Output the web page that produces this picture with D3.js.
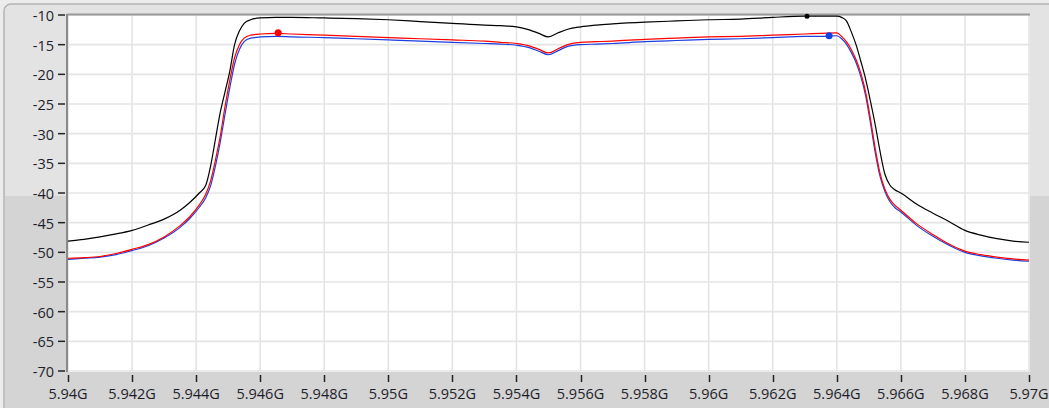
<!DOCTYPE html>
<html>
<head>
<meta charset="utf-8">
<script src="https://cdn.jsdelivr.net/npm/d3@7"></script>
<style>
  html, body { margin: 0; padding: 0; background: #eeeeee; }
  svg { display: block; }
  .tick-label { font-family: "Open Sans", "Noto Sans", sans-serif; font-size: 14.5px; fill: #1e1e2a; }
</style>
</head>
<body>
<div id="graph"></div>
<script>
// frequency points (GHz) shared by the three traces
var freqs = [5.9400, 5.9405, 5.9410, 5.9415, 5.9420, 5.9425, 5.9430, 5.9435, 5.9438, 5.9441,
  5.9443, 5.94445, 5.9446, 5.94475, 5.9449, 5.94505, 5.9452, 5.94535, 5.9455, 5.9457,
  5.9460, 5.9465, 5.9470, 5.9480, 5.9490, 5.9500, 5.9510, 5.9520, 5.9530, 5.9535,
  5.9540, 5.9544, 5.9547, 5.9550, 5.9553, 5.9556, 5.9560, 5.9565, 5.9570, 5.9580,
  5.9590, 5.9600, 5.9610, 5.9620, 5.9630, 5.9635, 5.9640, 5.96415, 5.9643, 5.96445,
  5.9646, 5.96475, 5.9649, 5.96505, 5.9652, 5.96535, 5.9655, 5.96565, 5.9658, 5.9660,
  5.9665, 5.9670, 5.9675, 5.9680, 5.9685, 5.9690, 5.9695, 5.9700];

// dBm
var blackTrace = [-48.1, -47.8, -47.4, -46.9, -46.3, -45.4, -44.4, -42.9, -41.6, -40.0,
  -38.7, -35.5, -31.0, -26.5, -23.0, -19.5, -15.0, -12.7, -11.4, -10.8,
  -10.5, -10.4, -10.4, -10.5, -10.6, -10.8, -11.1, -11.4, -11.7, -11.8,
  -12.0, -12.5, -13.1, -13.7, -13.0, -12.4, -12.0, -11.7, -11.5, -11.2,
  -11.0, -10.8, -10.7, -10.4, -10.2, -10.2, -10.2, -10.4, -11.0, -12.8,
  -15.0, -17.8, -20.8, -24.5, -28.5, -33.0, -36.8, -38.6, -39.4, -40.0,
  -41.9, -43.4, -44.8, -46.3, -47.1, -47.7, -48.1, -48.3];

var redTrace = [-51.0, -50.9, -50.7, -50.2, -49.5, -48.7, -47.4, -45.5, -44.0, -42.0,
  -40.2, -38.0, -34.5, -30.5, -25.5, -21.0, -17.2, -15.0, -13.9, -13.4,
  -13.2, -13.1, -13.2, -13.4, -13.6, -13.8, -14.0, -14.2, -14.4, -14.6,
  -14.8, -15.2, -15.8, -16.4, -15.7, -15.0, -14.6, -14.5, -14.4, -14.1,
  -13.9, -13.7, -13.6, -13.4, -13.2, -13.1, -13.0, -13.6, -14.5, -15.8,
  -17.5, -19.8, -23.0, -27.5, -32.5, -36.7, -39.3, -41.0, -42.0, -42.9,
  -45.2, -47.0, -48.6, -49.8, -50.4, -50.8, -51.1, -51.3];

var blueTrace = [-51.2, -51.0, -50.8, -50.4, -49.7, -48.9, -47.6, -45.8, -44.3, -42.4,
  -40.8, -38.8, -35.5, -31.5, -26.8, -22.3, -18.3, -15.8, -14.5, -13.9,
  -13.7, -13.6, -13.7, -13.8, -14.0, -14.2, -14.4, -14.6, -14.8, -14.9,
  -15.1, -15.5, -16.1, -16.7, -16.0, -15.3, -15.0, -14.9, -14.8, -14.5,
  -14.3, -14.1, -14.0, -13.8, -13.6, -13.6, -13.5, -14.0, -14.9, -16.3,
  -18.0, -20.4, -23.6, -28.2, -33.2, -37.2, -39.7, -41.4, -42.4, -43.2,
  -45.5, -47.3, -48.8, -50.0, -50.6, -51.0, -51.3, -51.5];

// markers
var markers = [
  {f: 5.94656, v: -13.0, color: "#ff0000", r: 3.5},
  {f: 5.96376, v: -13.5, color: "#1a3fe0", r: 3.5},
  {f: 5.96307, v: -10.2, color: "#000000", r: 2.5}
];

var yTicks = d3.range(-70, -9, 5);
var xTicks = d3.range(0, 16).map(i => 5.94 + i * 0.002);

var width = 1049, height = 408;
var pLeft = 68, pRight = 1030, pTop = 15, pBottom = 371;

var x = d3.scaleLinear().domain([5.94, 5.97]).range([pLeft, 1029]);
var y = d3.scaleLinear().domain([-70, -10]).range([pBottom, pTop]);

var svg = d3.select("#graph").append("svg")
    .attr("width", width)
    .attr("height", height);

// panel background
svg.append("rect").attr("x", 0).attr("y", 0).attr("width", width).attr("height", height)
    .style("fill", "#ececec");
svg.append("rect").attr("x", 4).attr("y", 4).attr("width", width + 10).attr("height", height + 10)
    .attr("rx", 7).style("fill", "#e3e3e3").style("stroke", "#b4b4b4").style("stroke-width", 1.5);
svg.append("rect").attr("x", 5).attr("y", 196).attr("width", width).attr("height", height)
    .style("fill", "#d4d4d4");

// plot area
svg.append("rect").attr("x", pLeft).attr("y", pTop).attr("width", pRight - pLeft).attr("height", pBottom - pTop + 1)
    .style("fill", "#ffffff");

// grid
svg.append("g").selectAll("line").data(xTicks).enter().append("line")
    .attr("x1", d => x(d)).attr("x2", d => x(d))
    .attr("y1", pTop).attr("y2", pBottom)
    .style("stroke", "#e4e4e4").style("stroke-width", 1.6);
svg.append("g").selectAll("line").data(yTicks).enter().append("line")
    .attr("x1", pLeft).attr("x2", pRight)
    .attr("y1", d => y(d)).attr("y2", d => y(d))
    .style("stroke", "#e4e4e4").style("stroke-width", 1.6);

// frame
svg.append("line").attr("x1", pLeft - 1).attr("x2", pRight).attr("y1", pTop - 0.5).attr("y2", pTop - 0.5)
    .style("stroke", "#9a9a9a").style("stroke-width", 2);
svg.append("line").attr("x1", pLeft - 1).attr("x2", pLeft - 1).attr("y1", pTop - 1).attr("y2", pBottom + 1)
    .style("stroke", "#8a8a8a").style("stroke-width", 2);

// y axis ticks + labels
var yAxis = svg.append("g");
yAxis.selectAll("line").data(yTicks).enter().append("line")
    .attr("x1", 58).attr("x2", 65)
    .attr("y1", d => y(d)).attr("y2", d => y(d))
    .style("stroke", "#222").style("stroke-width", 1.5);
yAxis.selectAll("text").data(yTicks).enter().append("text")
    .attr("class", "tick-label")
    .attr("x", 54)
    .attr("y", d => y(d) + 1)
    .attr("dy", "0.35em")
    .style("text-anchor", "end")
    .text(d => d);

// x axis ticks + labels
var xAxis = svg.append("g");
xAxis.selectAll("line").data(xTicks).enter().append("line")
    .attr("x1", d => Math.round(x(d)) + 0.5).attr("x2", d => Math.round(x(d)) + 0.5)
    .attr("y1", 375).attr("y2", 382)
    .style("stroke", "#222").style("stroke-width", 1.5);
xAxis.selectAll("text").data(xTicks).enter().append("text")
    .attr("class", "tick-label")
    .attr("x", d => x(d))
    .attr("y", 399)
    .style("text-anchor", "middle")
    .text(d => (+d.toFixed(3)) + "G");

// traces
var line = d3.line()
    .x((d, i) => x(freqs[i]))
    .y(d => y(d))
    .curve(d3.curveMonotoneX);

var plot = svg.append("g");
plot.append("path").datum(blackTrace).attr("d", line)
    .style("fill", "none").style("stroke", "#000000").style("stroke-width", 1.2);
plot.append("path").datum(blueTrace).attr("d", line)
    .style("fill", "none").style("stroke", "#1a3fe0").style("stroke-width", 1.2);
plot.append("path").datum(redTrace).attr("d", line)
    .style("fill", "none").style("stroke", "#ff0000").style("stroke-width", 1.2);

plot.selectAll("circle").data(markers).enter().append("circle")
    .attr("cx", d => x(d.f)).attr("cy", d => y(d.v)).attr("r", d => d.r)
    .style("fill", d => d.color);
</script>
</body>
</html>
